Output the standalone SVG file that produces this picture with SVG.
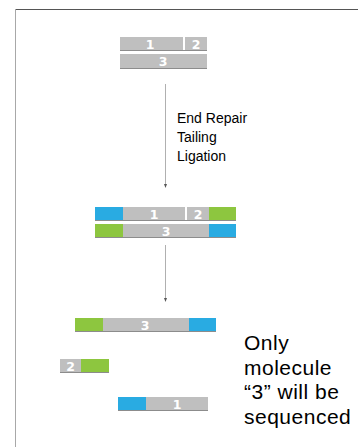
<svg xmlns="http://www.w3.org/2000/svg" width="358" height="447" viewBox="0 0 358 447">
  <style>
    .gray { fill: #bfbfbf; }
    .blue { fill: #29abe2; }
    .green { fill: #8dc63f; }
    .edge { stroke: #8c8c8c; stroke-width: 1; fill: none; }
    .num { font-family: "DejaVu Sans", "Liberation Sans", sans-serif; font-weight: bold; font-size: 12.5px; fill: #ffffff; text-anchor: middle; }
    .step { font-family: "Liberation Sans", Arial, sans-serif; font-size: 14px; fill: #000000; }
    .note { font-family: "Liberation Sans", Arial, sans-serif; font-size: 21px; letter-spacing: 0.5px; fill: #000000; }
    .conn { stroke: #b0b0b0; stroke-width: 1; fill: none; }
  </style>
  <defs>
    <marker id="tip" markerWidth="4" markerHeight="4" refX="2" refY="2" orient="auto" markerUnits="userSpaceOnUse">
      <path d="M0,0.5 L4,2 L0,3.5 Z" fill="#555555"/>
    </marker>
  </defs>

  <rect width="358" height="447" fill="#ffffff"/>

  <!-- frame -->
  <line x1="15" y1="9.5" x2="358" y2="9.5" stroke="#555555" stroke-width="1"/>
  <line x1="15.5" y1="9" x2="15.5" y2="447" stroke="#a8a8a8" stroke-width="1"/>

  <!-- connectors -->
  <g id="connectors">
    <line class="conn" x1="165.5" y1="84" x2="165.5" y2="186" marker-end="url(#tip)"/>
    <line class="conn" x1="165.5" y1="245" x2="165.5" y2="300" marker-end="url(#tip)"/>
  </g>

  <!-- starting fragments -->
  <g id="input">
    <rect class="gray" x="120" y="37" width="63" height="14"/>
    <rect class="gray" x="185" y="37" width="22" height="14"/>
    <rect class="gray" x="120" y="54" width="87" height="15"/>
    <line class="edge" x1="120" y1="50.5" x2="207" y2="50.5"/>
    <line class="edge" x1="120" y1="68.5" x2="207" y2="68.5"/>
    <text class="num" x="150" y="49">1</text>
    <text class="num" x="196" y="49">2</text>
    <text class="num" x="163" y="66">3</text>
  </g>

  <!-- step label -->
  <g id="steps">
    <text class="step" x="177" y="123">End Repair</text>
    <text class="step" x="177" y="142">Tailing</text>
    <text class="step" x="177" y="161">Ligation</text>
  </g>

  <!-- ligated duplex -->
  <g id="ligated">
    <rect class="blue" x="95" y="207" width="28" height="14"/>
    <rect class="gray" x="123" y="207" width="62" height="14"/>
    <rect class="gray" x="187" y="207" width="22" height="14"/>
    <rect class="green" x="209" y="207" width="27" height="14"/>
    <rect class="green" x="95" y="224" width="28" height="14"/>
    <rect class="gray" x="123" y="224" width="86" height="14"/>
    <rect class="blue" x="209" y="224" width="27" height="14"/>
    <line class="edge" x1="95" y1="220.5" x2="236" y2="220.5"/>
    <line class="edge" x1="95" y1="237.5" x2="236" y2="237.5"/>
    <text class="num" x="154" y="219">1</text>
    <text class="num" x="198" y="219">2</text>
    <text class="num" x="166" y="236">3</text>
  </g>

  <!-- separated strands -->
  <g id="strand3">
    <rect class="green" x="75" y="318" width="28" height="14"/>
    <rect class="gray" x="103" y="318" width="86" height="14"/>
    <rect class="blue" x="189" y="318" width="27" height="14"/>
    <line class="edge" x1="75" y1="331.5" x2="216" y2="331.5"/>
    <text class="num" x="145" y="330">3</text>
  </g>
  <g id="strand2">
    <rect class="gray" x="60" y="359" width="21" height="14"/>
    <rect class="green" x="81" y="359" width="28" height="14"/>
    <line class="edge" x1="60" y1="372.5" x2="109" y2="372.5"/>
    <text class="num" x="70.5" y="371">2</text>
  </g>
  <g id="strand1">
    <rect class="blue" x="118" y="397" width="28" height="14"/>
    <rect class="gray" x="146" y="397" width="62" height="14"/>
    <line class="edge" x1="118" y1="410.5" x2="208" y2="410.5"/>
    <text class="num" x="177" y="409">1</text>
  </g>

  <!-- note -->
  <g id="note">
    <text class="note" x="244" y="350">Only</text>
    <text class="note" x="244" y="374.5">molecule</text>
    <text class="note" x="244" y="399">“3” will be</text>
    <text class="note" x="244" y="423.5">sequenced</text>
  </g>
</svg>
